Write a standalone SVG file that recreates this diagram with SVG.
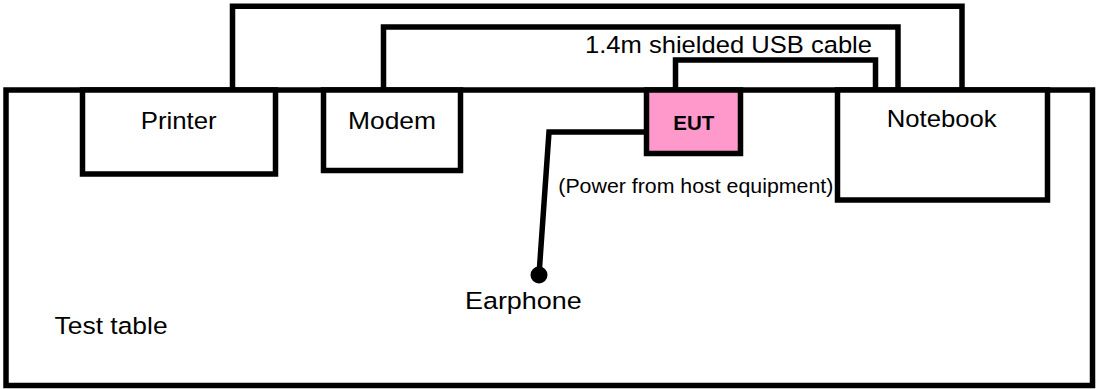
<svg xmlns="http://www.w3.org/2000/svg" width="1097" height="389" viewBox="0 0 1097 389">
<style>
.box{fill:#fff;stroke:#000;stroke-width:5.5}
.eut{fill:#FF99CC;stroke:#000;stroke-width:5.5}
.cable{fill:none;stroke:#000;stroke-width:5.5;stroke-linejoin:miter}
.t{font-family:"Liberation Sans",Arial,sans-serif;font-size:24.5px;fill:#000}
.s{font-family:"Liberation Sans",Arial,sans-serif;font-size:20px;fill:#000}
.b{font-family:"Liberation Sans",Arial,sans-serif;font-size:20px;font-weight:bold;fill:#000}
</style>
<rect width="1097" height="389" fill="#fff"/>
<g id="table">
<rect class="box" x="6" y="90" width="1086.5" height="295.5"/>
<text class="t" x="54.6" y="334.3" textLength="113" lengthAdjust="spacingAndGlyphs">Test table</text>
</g>
<g id="printer">
<rect class="box" x="82.5" y="90" width="193" height="84"/>
<text class="t" x="140.7" y="129.3" textLength="76" lengthAdjust="spacingAndGlyphs">Printer</text>
</g>
<g id="modem">
<rect class="box" x="323.5" y="90" width="137" height="80.5"/>
<text class="t" x="348" y="129" textLength="88" lengthAdjust="spacingAndGlyphs">Modem</text>
</g>
<g id="eut">
<rect class="eut" x="646.5" y="90" width="94" height="63.5"/>
<text class="b" x="673.3" y="130" textLength="41" lengthAdjust="spacingAndGlyphs">EUT</text>
</g>
<g id="notebook">
<rect class="box" x="837.5" y="90" width="210" height="110"/>
<text class="t" x="886.7" y="126.7" textLength="110" lengthAdjust="spacingAndGlyphs">Notebook</text>
</g>
<g id="earphone">
<circle cx="539" cy="275" r="8.5" fill="#000"/>
<text class="t" x="465" y="309.3" textLength="116.7" lengthAdjust="spacingAndGlyphs">Earphone</text>
</g>
<g id="connectors">
<polyline class="cable" points="232.5,90 232.5,6.2 962,6.2 962,90"/>
<polyline class="cable" points="383.5,90 383.5,27 898,27 898,90"/>
<polyline class="cable" points="675.5,90 675.5,60 875.5,60 875.5,90"/>
<polyline class="cable" points="646.5,132 549,132 539,275"/>
</g>
<text class="t" x="585" y="53.3" textLength="287" lengthAdjust="spacingAndGlyphs">1.4m shielded USB cable</text>
<text class="s" x="558.3" y="192.7" textLength="275" lengthAdjust="spacingAndGlyphs">(Power from host equipment)</text>
</svg>
